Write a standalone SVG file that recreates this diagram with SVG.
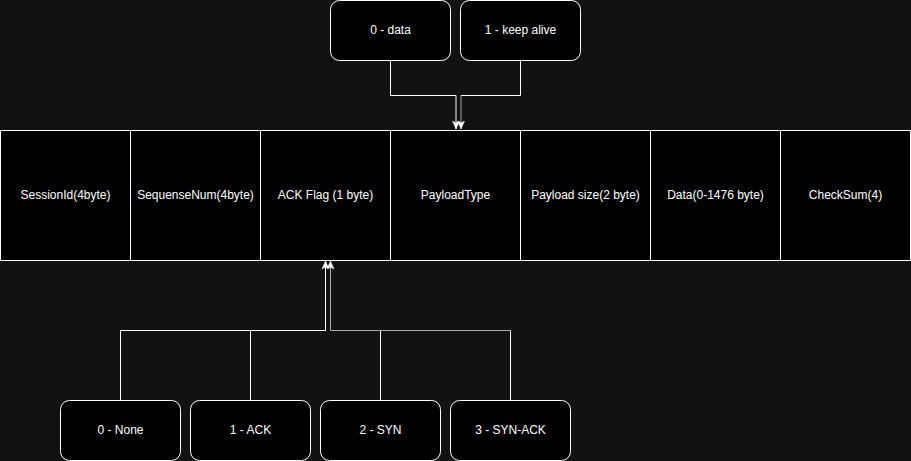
<svg xmlns="http://www.w3.org/2000/svg" width="911" height="461" viewBox="0 0 911 461">
<style>
.bg{fill:#121212}
.cell{fill:#000;stroke:#fff;stroke-width:1}
.box{fill:#000;stroke:#fff;stroke-width:1}
.t{fill:#fff;font-family:"Liberation Sans",Arial,sans-serif;font-size:12px;text-anchor:middle;dominant-baseline:central}
.c{fill:none;stroke:#fff;stroke-width:1}
.g{fill:none;stroke:#aaa;stroke-width:1}
</style>
<defs>
<marker id="arr" markerUnits="userSpaceOnUse" markerWidth="10" markerHeight="10" refX="8" refY="3.5" orient="auto">
<path d="M0 0 L8 3.5 L0 7 L2 3.5 Z" fill="#fff" stroke="#fff" stroke-width="0.5"/>
</marker>
</defs>
<rect class="bg" x="0" y="0" width="911" height="461"/>
<g id="connectors">
<path class="c" d="M390.5 60 V95.5 H456 V129" marker-end="url(#arr)"/>
<path class="c" d="M520.5 60 V95.5 H461"/>
<path class="g" d="M461 95.5 V129" marker-end="url(#arr)"/>
<path class="c" d="M120.5 400 V330.5 H325.5 V261" marker-end="url(#arr)"/>
<path class="c" d="M250.5 400 V330.5 H325.5"/>
<path class="c" d="M380.5 400 V330.5"/>
<path class="c" d="M510.5 400 V330.5"/>
<path class="g" d="M510.5 330.5 H330.5 V261" marker-end="url(#arr)"/>
</g>
<g id="node-data"><rect class="box" x="330.5" y="0.5" width="120" height="60" rx="9"/><text class="t" x="390.5" y="30">0 - data</text></g>
<g id="node-keepalive"><rect class="box" x="460.5" y="0.5" width="120" height="60" rx="9"/><text class="t" x="520.5" y="30">1 - keep alive</text></g>
<g id="node-sessionid"><rect class="cell" x="0.5" y="130.5" width="130" height="130"/><text class="t" x="65.5" y="195">SessionId(4byte)</text></g>
<g id="node-seqnum"><rect class="cell" x="130.5" y="130.5" width="130" height="130"/><text class="t" x="195.5" y="195">SequenseNum(4byte)</text></g>
<g id="node-ackflag"><rect class="cell" x="260.5" y="130.5" width="130" height="130"/><text class="t" x="325.5" y="195">ACK Flag (1 byte)</text></g>
<g id="node-payloadtype"><rect class="cell" x="390.5" y="130.5" width="130" height="130"/><text class="t" x="455.5" y="195">PayloadType</text></g>
<g id="node-payloadsize"><rect class="cell" x="520.5" y="130.5" width="130" height="130"/><text class="t" x="585.5" y="195">Payload size(2 byte)</text></g>
<g id="node-data-field"><rect class="cell" x="650.5" y="130.5" width="130" height="130"/><text class="t" x="715.5" y="195">Data(0-1476 byte)</text></g>
<g id="node-checksum"><rect class="cell" x="780.5" y="130.5" width="130" height="130"/><text class="t" x="845.5" y="195">CheckSum(4)</text></g>
<g id="node-none"><rect class="box" x="60.5" y="400.5" width="120" height="60" rx="9"/><text class="t" x="120.5" y="430">0 - None</text></g>
<g id="node-ack"><rect class="box" x="190.5" y="400.5" width="120" height="60" rx="9"/><text class="t" x="250.5" y="430">1 - ACK</text></g>
<g id="node-syn"><rect class="box" x="320.5" y="400.5" width="120" height="60" rx="9"/><text class="t" x="380.5" y="430">2 - SYN</text></g>
<g id="node-synack"><rect class="box" x="450.5" y="400.5" width="120" height="60" rx="9"/><text class="t" x="510.5" y="430">3 - SYN-ACK</text></g>
</svg>
